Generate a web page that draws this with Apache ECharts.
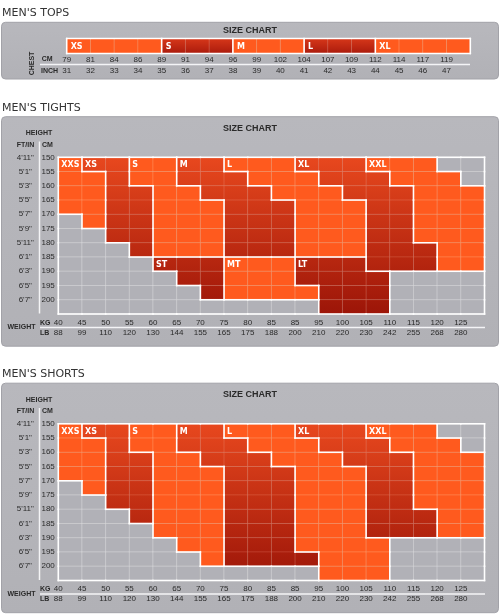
<!DOCTYPE html>
<html><head><meta charset="utf-8">
<script src="https://cdn.jsdelivr.net/npm/echarts@6/dist/echarts.min.js"></script>
<style>html,body{margin:0;padding:0;background:#fff}#c{width:500px;height:616px}</style>
</head><body><div id="c"></div>
<script>
// ---------- DATA ----------
// Men's tops
const topsCm   = [79,81,84,86,89,91,94,96,99,102,104,107,109,112,114,117,119];
const topsInch = [31,32,33,34,35,36,37,38,39,40,41,42,43,44,45,46,47];
const topsSizes = ['XS','S','M','L','XL'];
const topsSizeFromCm = [79,89,96,104,112];

// Tights / shorts axes
const weightKg = [40,45,50,55,60,65,70,75,80,85,85,95,100,105,110,115,120,125];
const weightLb = [88,99,110,120,130,144,155,165,175,188,200,210,220,230,242,255,268,280];
const heightCm = [150,155,160,165,170,175,180,185,190,195,200];
const heightFtIn = ["4'11\"","5'1\"","5'3\"","5'5\"","5'7\"","5'9\"","5'11\"","6'1\"","6'3\"","6'5\"","6'7\""];

// Size areas: [weight column, first height row, last height row]
const sizeXXS = [[0,0,3],[1,1,4]];
const sizeXS  = [[1,0,0],[2,0,5],[3,2,6]];
const sizeS   = [[3,0,1],[4,0,6],[5,2,6],[6,3,6]];
const sizeM   = [[5,0,1],[6,0,2],[7,1,6],[8,2,6],[9,3,6]];
const sizeL   = [[7,0,0],[8,0,1],[9,0,2],[10,1,6],[11,2,6],[12,3,6]];
const sizeXL  = [[10,0,0],[11,0,1],[12,0,2],[13,1,7],[14,2,7],[15,6,7]];
const sizeXXL = [[13,0,0],[14,0,1],[15,0,5],[16,1,7],[17,2,7]];
const sizeST  = [[4,7,7],[5,7,8],[6,7,9]];
const sizeMT  = [[7,7,9],[8,7,9],[9,7,9],[10,9,9]];
const sizeLT  = [[10,7,8],[11,7,10],[12,7,10],[13,8,10]];

// ---------- BUILD ----------
const NC = weightKg.length, NR = heightCm.length;
const tightsRegions = [
  ['XXS',1,sizeXXS],['XS',2,sizeXS],['S',1,sizeS],['M',2,sizeM],['L',1,sizeL],
  ['XL',2,sizeXL],['XXL',1,sizeXXL],['ST',2,sizeST],['MT',1,sizeMT],['LT',2,sizeLT]
];
const shortsRegions = [
  ['XXS',1,sizeXXS],['XS',2,sizeXS],['S',1,sizeS.concat(sizeST)],['M',2,sizeM.concat(sizeMT)],
  ['L',1,sizeL.concat(sizeLT)],['XL',2,sizeXL],['XXL',1,sizeXXL]
];

function build(regions){
  const id = [];
  for(let c=0;c<NC;c++){ id.push(new Array(NR).fill(-1)); }
  regions.forEach((rg,i)=>rg[2].forEach(([c,r0,r1])=>{ for(let r=r0;r<=r1;r++) id[c][r]=i; }));
  const cells=[], edges=[], labels=[];
  for(let c=0;c<NC;c++) for(let r=0;r<NR;r++){
    const a=id[c][r];
    cells.push([c,r,a<0?0:regions[a][1]]);
    const b = c+1<NC ? id[c+1][r] : -2;
    if(a!==b && !(a===-1&&b===-1)) edges.push([c+1,r,c+1,r+1]);
    if(c===0) edges.push([0,r,0,r+1]);
    const d = r+1<NR ? id[c][r+1] : -2;
    if(a!==d && !(a===-1&&d===-1)) edges.push([c,r+1,c+1,r+1]);
    if(r===0) edges.push([c,0,c+1,0]);
  }
  regions.forEach((rg,i)=>labels.push([rg[2][0][0], rg[2][0][1], i]));
  return {cells, edges, labels, names: regions.map(r=>r[0])};
}
const tights = build(tightsRegions);
const shorts = build(shortsRegions);

const topsStartIdx = topsSizeFromCm.map(v=>topsCm.indexOf(v));
const topsCells = topsCm.map((v,c)=>{
  let s=0; topsStartIdx.forEach((st,i)=>{ if(c>=st) s=i; });
  return [c,0,s%2===0?1:2];
});
const topsEdges = [[0,0,topsCm.length,0],[0,1,topsCm.length,1],[0,0,0,1],[topsCm.length,0,topsCm.length,1]]
  .concat(topsStartIdx.slice(1).map(s=>[s,0,s,1]));
const topsLabels = topsStartIdx.map((s,i)=>[s,0,i]);

// ---------- RENDER ----------
const ORANGE='#ff5a1e', GRAY='#b1b1b7';
function mix(a,b,t){
  const ch=s=>{const n=parseInt(s.slice(1),16);return [(n>>16)&255,(n>>8)&255,n&255];};
  const A=ch(a),B=ch(b);
  return 'rgb('+A.map((v,i)=>Math.round(v+(B[i]-v)*t)).join(',')+')';
}
function cellRenderer(nRows, dTop, dBot){
  return function(params, api){
    const c=api.value(0), r=api.value(1), k=api.value(2);
    const p0=api.coord([c,r]), p1=api.coord([c+1,r+1]);
    let fill, stroke;
    if(k===0){ fill=GRAY; stroke='rgba(255,255,255,0.22)'; }
    else if(k===1){ fill=ORANGE; stroke='rgba(255,200,160,0.22)'; }
    else {
      fill=new echarts.graphic.LinearGradient(0,0,0,1,[
        {offset:0,color:mix(dTop,dBot,r/nRows)},{offset:1,color:mix(dTop,dBot,(r+1)/nRows)}]);
      stroke='rgba(255,170,140,0.16)';
    }
    return {type:'rect', shape:{x:p0[0],y:p0[1],width:p1[0]-p0[0],height:p1[1]-p0[1]},
      style:{fill:fill, stroke:stroke, lineWidth:1}};
  };
}
function edgeRenderer(params, api){
  const a=api.coord([api.value(0),api.value(1)]), b=api.coord([api.value(2),api.value(3)]);
  return {type:'line', shape:{x1:a[0],y1:a[1],x2:b[0],y2:b[1]},
    style:{stroke:'#ffffff', lineWidth:1.6, lineCap:'square'}};
}
function labelRenderer(names, dx){
  return function(params, api){
    const c=api.value(0), r=api.value(1), i=api.value(2);
    const p0=api.coord([c,r]), p1=api.coord([c+1,r+1]);
    return {type:'text', x:p0[0]+dx, y:(p0[1]+p1[1])/2+0.5,
      style:{text:names[i], fill:'#ffffff', font:'bold 8px "DejaVu Sans"', align:'left', verticalAlign:'middle'}};
  };
}

const LBL = {fontSize:8, color:'#2b2b2b', fontFamily:'Liberation Sans'};
function hiddenAxis(){ return {axisLine:{show:false}, axisTick:{show:false}, splitLine:{show:false}}; }
function xLabels(grid, arr, margin, offset){
  return Object.assign({gridIndex:grid, type:'value', min:0, max:arr.length, interval:1, position:'bottom', offset:offset||0,
    axisLabel:Object.assign({margin:margin, formatter:v=>arr[v]!==undefined?String(arr[v]):''}, LBL)}, hiddenAxis());
}
function yLabels(grid, arr, margin, offset, align){
  return Object.assign({gridIndex:grid, type:'value', min:0, max:arr.length, interval:1, inverse:true, position:'left', offset:offset||0,
    axisLabel:Object.assign({margin:margin, align:align||'right', padding:[2,0,0,0], formatter:v=>arr[v]!==undefined?String(arr[v]):''}, LBL)}, hiddenAxis());
}

const D = 266.5; // vertical shift of the shorts block
const TOP_T = 157.3, TOP_S = TOP_T + D;

function panel(y,h){
  return {type:'rect', z:0, shape:{x:1.5,y:y,width:497,height:h,r:4},
    style:{fill:new echarts.graphic.LinearGradient(0,0,0,1,[{offset:0,color:'#b8b8bd'},{offset:1,color:'#b1b1b6'}]),
      stroke:'#a2a2a8', lineWidth:1}};
}
function txt(x,y,text,font,align,extra){
  return Object.assign({type:'text', z:5, x:x, y:y,
    style:{text:text, font:font, fill:'#2a2a2a', align:align||'left', verticalAlign:'middle'}}, extra||{});
}
function wline(x1,y1,x2,y2){
  return {type:'line', z:1, shape:{x1,y1,x2,y2}, style:{stroke:'#f4f4f6', lineWidth:1.5}};
}
const TITLE='11px "DejaVu Sans"', HEAD='bold 9px "Liberation Sans"', SMALLB='bold 7px "Liberation Sans"';
function sizeBlock(dy, title){
  return [
    panel(116.7+dy, 229.5),
    txt(2, 107.7+dy, title, TITLE, 'left', {style:{text:title,font:TITLE,fill:'#333',align:'left',verticalAlign:'middle'}}),
    txt(250, 128.3+dy, 'SIZE CHART', HEAD, 'center'),
    txt(39, 133.3+dy, 'HEIGHT', SMALLB, 'center'),
    txt(25.5, 145+dy, 'FT/IN', SMALLB, 'center'),
    txt(42, 145+dy, 'CM', SMALLB, 'left'),
    txt(21.5, 327.5+dy, 'WEIGHT', SMALLB, 'center'),
    txt(40, 322.7+dy, 'KG', SMALLB, 'left'),
    txt(40, 332.7+dy, 'LB', SMALLB, 'left'),
    wline(39.5, 141.5+dy, 39.5, 313.5+dy),
    wline(40, 327.5+dy, 485, 327.5+dy)
  ];
}

const graphic = [
  panel(22.3, 56.7),
  txt(2, 13.3, "MEN'S TOPS", TITLE, 'left', {style:{text:"MEN'S TOPS",font:TITLE,fill:'#333',align:'left',verticalAlign:'middle'}}),
  txt(250, 30.5, 'SIZE CHART', HEAD, 'center'),
  txt(32, 63.5, 'CHEST', SMALLB, 'center', {rotation:Math.PI/2}),
  txt(41.7, 59.3, 'CM', SMALLB, 'left'),
  txt(41, 70.7, 'INCH', SMALLB, 'left'),
  wline(40, 64.5, 470, 64.5)
].concat(sizeBlock(0, "MEN'S TIGHTS"), sizeBlock(D, "MEN'S SHORTS"));

function cellSeries(xi, yi, data, nRows, dTop, dBot){
  return {type:'custom', xAxisIndex:xi, yAxisIndex:yi, z:2, silent:true, data:data,
    encode:{x:0,y:1}, renderItem:cellRenderer(nRows,dTop,dBot)};
}
function edgeSeries(xi, yi, data){
  return {type:'custom', xAxisIndex:xi, yAxisIndex:yi, z:3, silent:true, data:data,
    encode:{x:[0,2],y:[1,3]}, renderItem:edgeRenderer};
}
function labelSeries(xi, yi, data, names, dx){
  return {type:'custom', xAxisIndex:xi, yAxisIndex:yi, z:4, silent:true, data:data,
    encode:{x:0,y:1}, renderItem:labelRenderer(names,dx)};
}

const option = {
  animation:false,
  backgroundColor:'#ffffff',
  graphic: graphic,
  grid:[
    {left:66.7, top:38.5, width:403.6, height:15},
    {left:58.3, top:TOP_T, width:426.2, height:156.7},
    {left:58.3, top:TOP_S, width:426.2, height:156.7}
  ],
  xAxis:[
    xLabels(0, topsCm, 2, 0),
    xLabels(0, topsInch, 2, 11.5),
    xLabels(1, weightKg, 4.5, 0),
    xLabels(1, weightLb, 4.5, 10),
    xLabels(2, weightKg, 4.5, 0),
    xLabels(2, weightLb, 4.5, 10)
  ],
  yAxis:[
    Object.assign({gridIndex:0, type:'value', min:0, max:1, inverse:true, axisLabel:{show:false}}, hiddenAxis()),
    yLabels(1, heightCm, 3.5, 0, 'right'),
    yLabels(1, heightFtIn, 3, 30, 'center'),
    yLabels(2, heightCm, 3.5, 0, 'right'),
    yLabels(2, heightFtIn, 3, 30, 'center')
  ],
  series:[
    cellSeries(0,0,topsCells,1,'#d8381a','#a91a0c'),
    edgeSeries(0,0,topsEdges),
    labelSeries(0,0,topsLabels,topsSizes,4),
    cellSeries(2,1,tights.cells,NR,'#e8481e','#9c1508'),
    edgeSeries(2,1,tights.edges),
    labelSeries(2,1,tights.labels,tights.names,3),
    cellSeries(4,3,shorts.cells,NR,'#e8481e','#9c1508'),
    edgeSeries(4,3,shorts.edges),
    labelSeries(4,3,shorts.labels,shorts.names,3)
  ]
};
const chart = echarts.init(document.getElementById('c'), null, {renderer:'canvas'});
chart.setOption(option);
</script></body></html>
